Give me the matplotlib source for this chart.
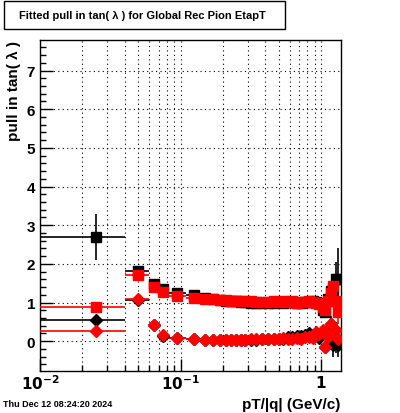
import numpy as np
import matplotlib
matplotlib.use('Agg')
import matplotlib.pyplot as plt
from matplotlib.patches import Rectangle
from matplotlib.ticker import FixedLocator, MultipleLocator, NullFormatter

plt.rcParams['font.family'] = ['Liberation Sans', 'DejaVu Sans']

### data: pT/|q| bins and fitted pulls ###
edges = [0.01, 0.04, 0.06, 0.07, 0.08, 0.11, 0.14, 0.16, 0.18, 0.20, 0.22, 0.24,
         0.26, 0.28, 0.30, 0.33, 0.36, 0.40, 0.44, 0.48, 0.52, 0.56, 0.60, 0.65,
         0.70, 0.75, 0.80, 0.85, 0.90, 0.95, 1.00, 1.05, 1.10, 1.15, 1.20, 1.25,
         1.30, 1.35]

# sigma of pull (squares)
sig_black = [2.70, 1.82, 1.48, 1.34, 1.26, 1.20, 1.12, 1.08, 1.07, 1.05, 1.04, 1.03,
             1.02, 1.01, 1.00, 1.00, 0.99, 1.00, 1.00, 1.01, 1.00, 1.02, 1.01, 0.99,
             1.00, 1.01, 1.02, 1.03, 1.02, 0.98, 0.80, 0.75, 1.10, 1.30, 1.35, 1.60,
             1.60]
sig_black_err = [0.60, 0.05, 0.04, 0.03, 0.03, 0.02, 0.02, 0.02, 0.02, 0.02, 0.02, 0.02,
                 0.02, 0.02, 0.02, 0.02, 0.02, 0.02, 0.02, 0.02, 0.02, 0.02, 0.02, 0.03,
                 0.03, 0.03, 0.03, 0.04, 0.04, 0.05, 0.08, 0.10, 0.15, 0.20, 0.30, 0.45,
                 0.80]
sig_red = [0.88, 1.72, 1.40, 1.27, 1.17, 1.13, 1.10, 1.08, 1.07, 1.06, 1.05, 1.04,
           1.04, 1.03, 1.03, 1.02, 1.02, 1.02, 1.03, 1.02, 1.03, 1.02, 1.04, 1.00,
           1.01, 1.02, 1.03, 1.02, 0.98, 0.95, 0.88, 0.82, 1.05, 1.25, 1.42, 1.05,
           0.75]
sig_red_err = [0.05, 0.04, 0.03, 0.03, 0.02, 0.02, 0.02, 0.02, 0.02, 0.02, 0.02, 0.02,
               0.02, 0.02, 0.02, 0.02, 0.02, 0.02, 0.02, 0.02, 0.02, 0.02, 0.02, 0.02,
               0.02, 0.03, 0.03, 0.03, 0.04, 0.05, 0.06, 0.08, 0.10, 0.15, 0.20, 0.25,
               0.30]

# mean of pull (diamonds)
mean_black = [0.55, 1.07, 0.43, 0.14, 0.09, 0.07, 0.03, 0.03, 0.03, 0.03, 0.02, 0.02,
              0.03, 0.03, 0.04, 0.04, 0.05, 0.05, 0.06, 0.07, 0.07, 0.10, 0.12, 0.14,
              0.13, 0.17, 0.20, 0.15, 0.22, 0.08, 0.25, -0.15, 0.30, 0.45, -0.10, 0.10,
              -0.10]
mean_black_err = [0.08, 0.03, 0.03, 0.02, 0.02, 0.02, 0.02, 0.02, 0.02, 0.02, 0.02, 0.02,
                  0.02, 0.02, 0.02, 0.02, 0.02, 0.02, 0.02, 0.02, 0.02, 0.02, 0.02, 0.03,
                  0.03, 0.03, 0.04, 0.04, 0.05, 0.06, 0.08, 0.10, 0.15, 0.20, 0.30, 0.40,
                  0.30]
mean_red = [0.27, 1.08, 0.43, 0.15, 0.08, 0.07, 0.04, 0.04, 0.04, 0.03, 0.03, 0.04,
            0.04, 0.04, 0.05, 0.05, 0.06, 0.06, 0.07, 0.06, 0.08, 0.05, 0.07, 0.08,
            0.05, 0.10, 0.12, 0.08, 0.24, 0.18, 0.30, -0.15, 0.10, 0.45, 0.20, 0.30,
            0.05]
mean_red_err = [0.03, 0.03, 0.02, 0.02, 0.02, 0.02, 0.02, 0.02, 0.02, 0.02, 0.02, 0.02,
                0.02, 0.02, 0.02, 0.02, 0.02, 0.02, 0.02, 0.02, 0.02, 0.02, 0.02, 0.02,
                0.02, 0.03, 0.03, 0.03, 0.04, 0.05, 0.06, 0.08, 0.10, 0.12, 0.15, 0.20,
                0.25]

edges = np.array(edges)
x = 0.5 * (edges[:-1] + edges[1:])
xerr = np.vstack([x - edges[:-1], edges[1:] - x])

W, H = 400, 414
fig = plt.figure(figsize=(W / 100, H / 100), dpi=100)
ax = fig.add_axes([40 / W, 1 - 372 / H, 300.7 / W, 331 / H])

def draw(y, yerr, color, marker, ms):
    ax.errorbar(x, y, xerr=xerr, yerr=yerr, fmt=marker, color=color, ms=ms,
                mec=color, elinewidth=1.2, capsize=0, zorder=3)

draw(sig_black, sig_black_err, 'black', 's', 7)
draw(mean_black, mean_black_err, 'black', 'D', 6.5)
draw(sig_red, sig_red_err, 'red', 's', 7)
draw(mean_red, mean_red_err, 'red', 'D', 6.5)

ax.set_xscale('log')
ax.set_xlim(0.01, 1.38)
ax.set_ylim(-0.77, 7.79)

ax.xaxis.set_major_locator(FixedLocator([0.01, 0.1, 1]))
ax.xaxis.set_minor_locator(FixedLocator([m * d for d in (0.01, 0.1, 1) for m in range(2, 10)]))
ax.xaxis.set_minor_formatter(NullFormatter())
ax.set_xticklabels([r'$\mathbf{10^{-2}}$', r'$\mathbf{10^{-1}}$', r'$\mathbf{1}$'])
ax.yaxis.set_major_locator(MultipleLocator(1))
ax.yaxis.set_minor_locator(MultipleLocator(0.2))

ax.grid(True, which='major', axis='y', color='black', linestyle=(0, (1, 3)), linewidth=0.8)
ax.grid(True, which='both', axis='x', color='black', linestyle=(0, (1, 3)), linewidth=0.8)
ax.set_axisbelow(True)

ax.tick_params(which='both', direction='in', top=False, right=False, labelsize=11)
ax.tick_params(which='major', length=9, width=1)
ax.tick_params(which='minor', length=4.5, width=1)
ax.tick_params(axis='x', pad=2)
for lab in ax.get_yticklabels():
    lab.set_fontweight('bold')
for s in ax.spines.values():
    s.set_linewidth(1)

ax.set_ylabel('pull in tan( λ )', fontsize=11, fontweight='bold', loc='top', labelpad=4)
fig.text(340 / W, 1 - 405 / H, 'pT/|q| (GeV/c)', ha='right', va='center',
         fontsize=11, fontweight='bold')

# title box
fig.patches.append(Rectangle((4 / W, 1 - 30 / H), 281 / W, 28 / H, transform=fig.transFigure,
                             facecolor='white', edgecolor='black', linewidth=1))
fig.text(142 / W, 1 - 16 / H, 'Fitted pull in tan( λ ) for Global Rec Pion EtapT',
         ha='center', va='center', fontsize=8, fontweight='bold')
fig.text(3 / W, 1 - 405 / H, 'Thu Dec 12 08:24:20 2024', va='center',
         fontsize=6.5, fontweight='bold')

fig.savefig('out.png', dpi=100)
